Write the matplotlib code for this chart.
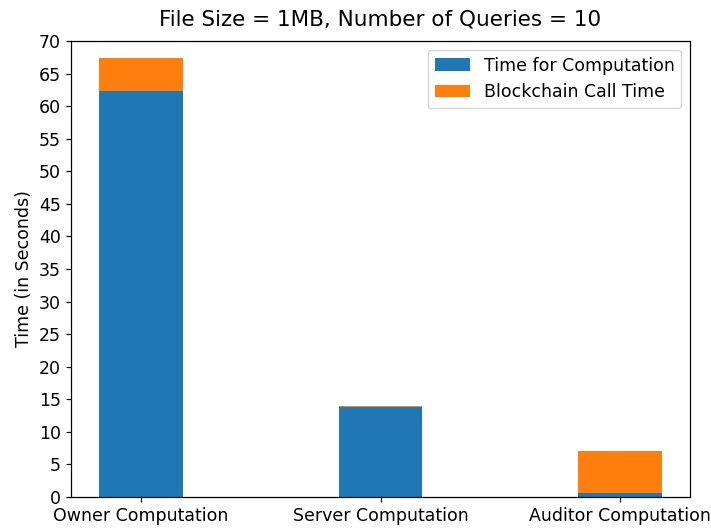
import matplotlib
matplotlib.use("Agg")
from matplotlib import pyplot as plt
import numpy as np

categories = ["Owner Computation", "Server Computation", "Auditor Computation"]
computation_time = [62.35, 13.85, 0.66]
blockchain_time = [5.05, 0.15, 6.38]

s = 711 / 640  # scale from default 6.4in @ 100dpi
plt.rcParams['font.size'] = 12.5
plt.rcParams['axes.linewidth'] = 0.8 * s
plt.rcParams['xtick.major.width'] = 0.8 * s
plt.rcParams['ytick.major.width'] = 0.8 * s
plt.rcParams['xtick.major.size'] = 3.5 * s
plt.rcParams['ytick.major.size'] = 3.5 * s

fig, ax = plt.subplots(figsize=(7.11, 5.29), dpi=100)
fig.subplots_adjust(left=71 / 711, right=690 / 711, top=1 - 41 / 529, bottom=1 - 497 / 529)

x = np.arange(len(categories))
width = 0.35

ax.bar(x, computation_time, width, label="Time for Computation", color="#1f77b4")
ax.bar(x, blockchain_time, width, bottom=computation_time,
       label="Blockchain Call Time", color="#ff7f0e")

ax.set_xticks(x)
ax.set_xticklabels(categories)
ax.set_yticks(np.arange(0, 71, 5))
ax.set_ylim(0, 70)
ax.set_ylabel("Time (in Seconds)", fontsize=12.5)
ax.set_title("File Size = 1MB, Number of Queries = 10", fontsize=15.5, pad=11)
ax.legend(fontsize=12.5)

fig.savefig("out.png", dpi=100)
